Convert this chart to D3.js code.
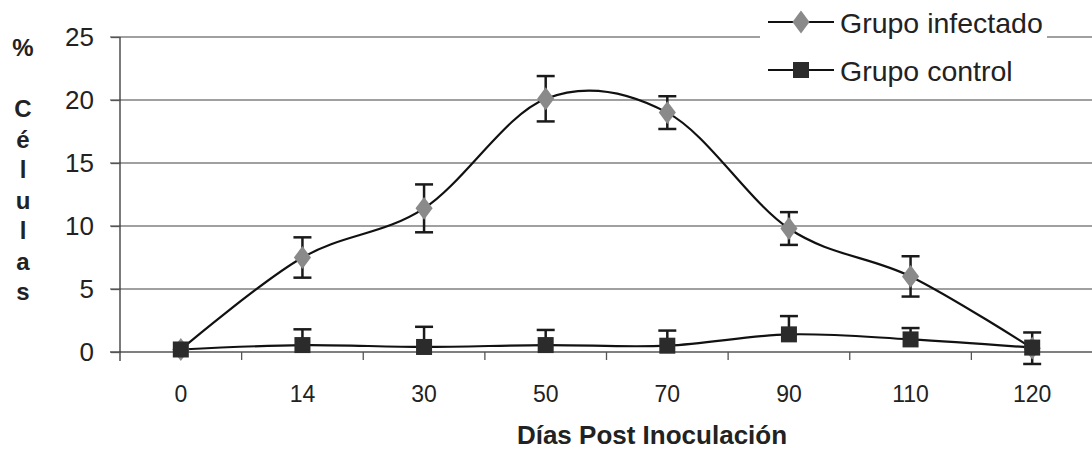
<!DOCTYPE html>
<html>
<head>
<meta charset="utf-8">
<script src="https://cdn.jsdelivr.net/npm/d3@7"></script>
<style>
  html, body { margin: 0; padding: 0; background: #fff; }
  svg { display: block; font-family: "Liberation Sans", Arial, sans-serif; }
</style>
</head>
<body>
<svg id="chart" width="1092" height="452"></svg>
<script>
// Días post inoculación (categorías del eje X)
const days = ["0", "14", "30", "50", "70", "90", "110", "120"];
// % de células, grupo infectado, con su error (simétrico)
const infectado = [0.2, 7.5, 11.4, 20.1, 19.0, 9.8, 6.0, 0.3];
const infectadoErr = [0, 1.6, 1.9, 1.8, 1.3, 1.3, 1.6, 1.25];
// % de células, grupo control, con su error (solo positivo)
const control = [0.2, 0.55, 0.4, 0.55, 0.5, 1.4, 1.0, 0.35];
const controlErr = [0, 1.25, 1.6, 1.2, 1.2, 1.45, 0.9, 0];
const yTicks = [0, 5, 10, 15, 20, 25];
const seriesNames = ["Grupo infectado", "Grupo control"];

const svg = d3.select("#chart");
const plotLeft = 120, plotRight = 1093, plotTop = 37, plotBottom = 352;

const x = d3.scaleBand().domain(days).range([plotLeft, plotRight]).paddingInner(0).paddingOuter(0);
const y = d3.scaleLinear().domain([0, 25]).range([plotBottom, plotTop]);
const cx = d => x(d) + x.bandwidth() / 2;

// Líneas de cuadrícula horizontales
svg.append("g")
  .selectAll("line")
  .data(yTicks)
  .join("line")
  .attr("x1", plotLeft - 10).attr("x2", 1092)
  .attr("y1", d => y(d)).attr("y2", d => y(d))
  .attr("stroke", d => d === 0 ? "#555" : "#808080")
  .attr("stroke-width", 1.5);

// Eje Y
const yAxis = svg.append("g")
  .attr("transform", `translate(${plotLeft},0)`)
  .call(d3.axisLeft(y).tickValues(yTicks).tickSize(9).tickPadding(17));
yAxis.select(".domain").attr("d", `M0,${plotTop}V${plotBottom + 9}`).attr("stroke", "#333").attr("stroke-width", 1.3);
yAxis.selectAll(".tick line").attr("stroke", "#555").attr("stroke-width", 1.3);
yAxis.selectAll(".tick text")
  .attr("font-size", 26).attr("fill", "#222")
  .attr("font-family", "'Liberation Sans', Arial, sans-serif");

// Eje X (categorías)
const xAxis = svg.append("g")
  .attr("transform", `translate(0,${plotBottom})`)
  .call(d3.axisBottom(x).tickSize(0).tickPadding(34));
xAxis.select(".domain").remove();
xAxis.selectAll(".tick text")
  .attr("font-size", 23).attr("fill", "#222")
  .attr("font-family", "'Liberation Sans', Arial, sans-serif");

// Marcas entre categorías
svg.append("g")
  .selectAll("line")
  .data(days.slice(1))
  .join("line")
  .attr("x1", d => x(d)).attr("x2", d => x(d))
  .attr("y1", plotBottom).attr("y2", plotBottom + 8)
  .attr("stroke", "#555").attr("stroke-width", 1.3);

// Títulos de ejes
svg.append("text")
  .attr("x", 652).attr("y", 444)
  .attr("text-anchor", "middle")
  .attr("font-size", 26).attr("font-weight", "bold").attr("fill", "#222")
  .text("Días Post Inoculación");

const yTitle = ["%", "", "C", "é", "l", "u", "l", "a", "s"];
svg.append("g")
  .selectAll("text")
  .data(yTitle)
  .join("text")
  .attr("x", 23)
  .attr("y", (d, i) => i === 0 ? 56 : 117 + (i - 2) * 30.5)
  .attr("text-anchor", "middle")
  .attr("font-size", 24)
  .attr("font-weight", "bold").attr("fill", "#222")
  .text(d => d);

// Curvas suavizadas
const line = d3.line()
  .x((d, i) => cx(days[i]))
  .y(d => y(d))
  .curve(d3.curveCatmullRom.alpha(0));

function drawErrors(values, plus, minus) {
  const g = svg.append("g").attr("stroke", "#1a1a1a").attr("stroke-width", 2.5);
  values.forEach((v, i) => {
    if (!plus[i]) return;
    const xc = cx(days[i]);
    const y0 = y(v - minus[i]), y1 = y(v + plus[i]);
    g.append("line").attr("x1", xc).attr("x2", xc).attr("y1", y0).attr("y2", y1);
    if (minus[i]) g.append("line").attr("x1", xc - 9).attr("x2", xc + 9).attr("y1", y0).attr("y2", y0);
    g.append("line").attr("x1", xc - 9).attr("x2", xc + 9).attr("y1", y1).attr("y2", y1);
  });
}

svg.append("path").datum(infectado)
  .attr("d", line).attr("fill", "none").attr("stroke", "#111").attr("stroke-width", 2.2);
svg.append("path").datum(control)
  .attr("d", line).attr("fill", "none").attr("stroke", "#111").attr("stroke-width", 2.2);

drawErrors(infectado, infectadoErr, infectadoErr);
drawErrors(control, controlErr, controlErr.map(() => 0));

const diamond = d3.symbol().type(d3.symbolDiamond).size(150);
svg.append("g")
  .selectAll("path")
  .data(infectado)
  .join("path")
  .attr("transform", (d, i) => `translate(${cx(days[i])},${y(d)}) scale(1.3,1)`)
  .attr("d", diamond)
  .attr("fill", "#8a8a8a");

svg.append("g")
  .selectAll("rect")
  .data(control)
  .join("rect")
  .attr("x", (d, i) => cx(days[i]) - 8)
  .attr("y", d => y(d) - 8)
  .attr("width", 16).attr("height", 16)
  .attr("fill", "#2b2b2b");

// Leyenda
const legend = svg.append("g");
legend.append("rect")
  .attr("x", 760).attr("y", 0).attr("width", 287).attr("height", 90)
  .attr("fill", "#fff");
const legendRows = legend.selectAll("g")
  .data(seriesNames)
  .join("g")
  .attr("transform", (d, i) => `translate(0,${22 + i * 48})`);
legendRows.append("line")
  .attr("x1", 768).attr("x2", 834).attr("y1", 0).attr("y2", 0)
  .attr("stroke", "#111").attr("stroke-width", 2.2);
legendRows.filter((d, i) => i === 0).append("path")
  .attr("transform", "translate(801,0) scale(1.3,1)")
  .attr("d", diamond)
  .attr("fill", "#8a8a8a");
legendRows.filter((d, i) => i === 1).append("rect")
  .attr("x", 793).attr("y", -8).attr("width", 16).attr("height", 16)
  .attr("fill", "#2b2b2b");
legendRows.append("text")
  .attr("x", 840).attr("y", 11)
  .attr("font-size", 28.5).attr("fill", "#222")
  .text(d => d);
</script>
</body>
</html>
